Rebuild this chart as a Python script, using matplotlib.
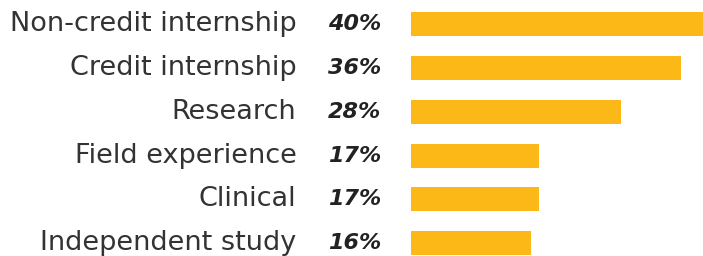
import matplotlib.pyplot as plt
import matplotlib.transforms as mtransforms

categories = ["Non-credit internship", "Credit internship", "Research",
              "Field experience", "Clinical", "Independent study"]
values = [40, 36, 28, 17, 17, 16]
pct_labels = ["40%", "36%", "28%", "17%", "17%", "16%"]

W, H = 703, 256
fig = plt.figure(figsize=(W / 100, H / 100), dpi=100)
ax = fig.add_axes([411 / W, 0, 1 - 411 / W, 1])

y_pos = list(range(len(categories)))
ax.barh(y_pos, values, height=0.55, color="#FBB817", align="center")

ax.set_xlim(0, 292 / 7.5)
ax.set_ylim(5 + (H - 243.2) / 43.8, -24.2 / 43.8)
ax.axis("off")

trans = mtransforms.blended_transform_factory(fig.transFigure, ax.transData)
for y, cat, pct in zip(y_pos, categories, pct_labels):
    ax.text(296.5 / W, y, cat, transform=trans, ha="right", va="center",
            fontsize=19.5, color="#333333", family="DejaVu Sans")
    ax.text(381 / W, y, pct, transform=trans, ha="right", va="center",
            fontsize=16, color="#222222", family="DejaVu Sans",
            weight="bold", style="italic")

fig.savefig("out.png", dpi=100)
